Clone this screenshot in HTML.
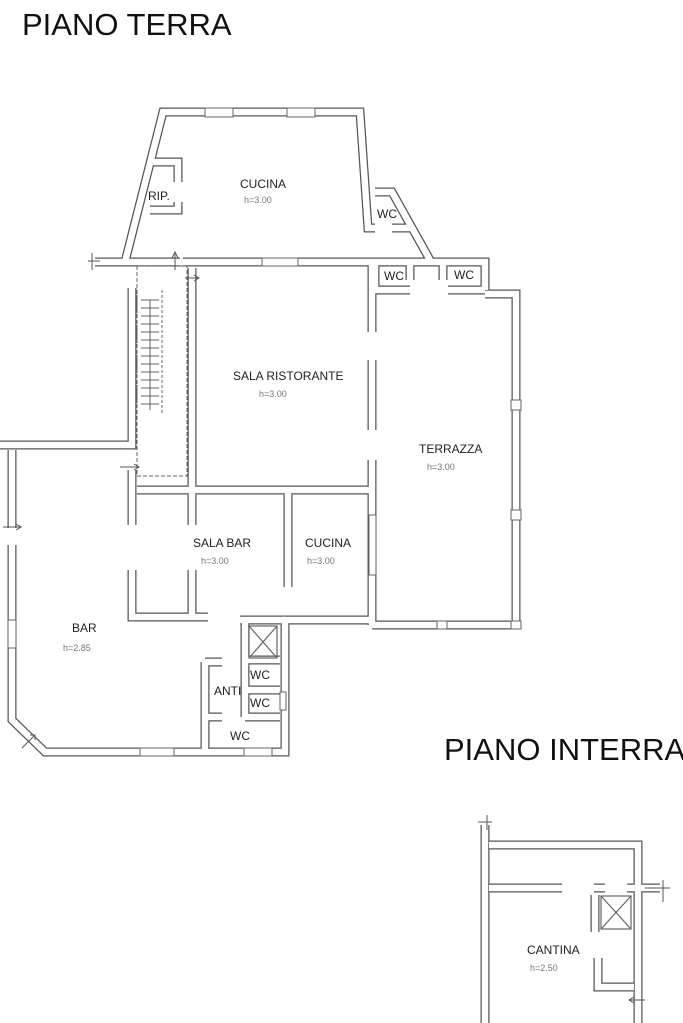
<!DOCTYPE html>
<html><head><meta charset="utf-8"><style>
html,body{margin:0;padding:0;background:#fff;width:683px;height:1023px;overflow:hidden}
svg{display:block}
.w{fill:none;stroke:#555;stroke-width:9;stroke-linejoin:miter;stroke-linecap:butt}
.wi{fill:none;stroke:#fff;stroke-width:6.5;stroke-linejoin:miter;stroke-linecap:butt}
.t{fill:none;stroke:#666;stroke-width:1.2}
.d{fill:none;stroke:#666;stroke-width:1;stroke-dasharray:4 2}
text{font-family:"Liberation Sans",Arial,sans-serif}
.lb{font-size:12px;fill:#222}
.h{font-size:9px;fill:#777}
</style></head><body>
<svg width="683" height="1023" viewBox="0 0 683 1023">
<text x="22" y="35" font-size="31" fill="#111">PIANO TERRA</text>
<text x="444" y="760" font-size="31" fill="#111">PIANO INTERRA</text>

<defs>
<g id="walls" fill="none">
<path d="M125 262 L163 112 L360 112 L368 228 L375 228"/>
<path d="M375 192 L392 192 L430 260"/>
<path d="M152 162 L178 162 L178 182"/>
<path d="M150 210 L178 210 L178 202"/>
<path d="M392 228 L410 228"/>
<path d="M95 262 L180 262"/>
<path d="M183 262 L372 262"/>
<path d="M372 262 L485 262 L485 290"/>
<path d="M375 262 L375 290 L410 290"/>
<path d="M448 290 L485 290"/>
<path d="M410 262 L410 280"/>
<path d="M443 262 L443 280"/>
<path d="M485 294 L516 294 L516 625 L372 625"/>
<path d="M372 262 L372 332"/>
<path d="M372 360 L372 430"/>
<path d="M372 460 L372 625"/>
<path d="M132 288 L132 445 L0 445"/>
<path d="M192 268 L192 490"/>
<path d="M132 470 L132 525"/>
<path d="M137 490 L372 490"/>
<path d="M192 490 L192 525"/>
<path d="M192 570 L192 615"/>
<path d="M132 570 L132 617 L208 617"/>
<path d="M288 493 L288 587"/>
<path d="M12 450 L12 528"/>
<path d="M12 545 L12 720 L45 752 L285 752 L285 620 L372 620"/>
<path d="M240 620 L285 620"/>
<path d="M205 662 L205 752"/>
<path d="M205 662 L222 662"/>
<path d="M205 717 L222 717"/>
<path d="M245 620 L245 717"/>
<path d="M245 690 L280 690"/>
<path d="M245 717 L280 717"/>
<path d="M245 660 L280 660"/>
<path d="M485 825 L485 1023"/>
<path d="M489 845 L638 845 L638 1023"/>
<path d="M489 888 L562 888"/>
<path d="M594 888 L605 888"/>
<path d="M627 888 L660 888"/>
<path d="M598 958 L598 987 L634 987"/>
<path d="M595 895 L595 932"/>
</g>
</defs>
<use href="#walls" class="w"/>
<use href="#walls" class="wi"/>

<rect x="137" y="266" width="50" height="210" class="d"/>
<g stroke="#666" stroke-width="1">
<line x1="137" y1="290" x2="137" y2="415" stroke-dasharray="3 2"/>
<line x1="162" y1="290" x2="162" y2="415" stroke-dasharray="3 2"/>
<path d="M141 300 h18 M141 308 h18 M141 316 h18 M141 324 h18 M141 332 h18 M141 340 h18 M141 348 h18 M141 356 h18 M141 364 h18 M141 372 h18 M141 380 h18 M141 388 h18 M141 396 h18 M141 404 h18"/>
<line x1="150" y1="300" x2="150" y2="410"/>
</g>
<g class="t"><rect x="249" y="626" width="28" height="32"/><path d="M249 626 L277 658 M277 626 L249 658"/>
<rect x="601" y="896" width="30" height="33"/><path d="M601 896 L631 929 M631 896 L601 929"/></g>
<g stroke="#555" stroke-width="1" fill="none">
<path d="M175 270 V254 M172 258 L175 252 L178 258"/>
<path d="M185 278 H198 M194 275 L199 278 L194 281"/>
<path d="M120 467 H138 M134 464 L139 467 L134 470"/>
<path d="M3 527 H20 M16 524 L21 527 L16 530"/>
<path d="M22 748 L35 735 M30 735 L35 735 L35 740"/>
<path d="M630 1000 H645 M634 997 L629 1000 L634 1003"/>
<path d="M88 261 H100 M92 253 V270"/>
<path d="M478 822 H492 M487 815 V830"/>
<path d="M645 888 H670 M663 880 V902"/>
</g>
<g fill="#fff" stroke="#666" stroke-width="1">
<rect x="205" y="108" width="28" height="9"/><rect x="287" y="108" width="28" height="9"/>
<rect x="262" y="258" width="36" height="8"/>
<rect x="511" y="400" width="10" height="10"/><rect x="511" y="510" width="10" height="10"/>
<rect x="437" y="621" width="10" height="8"/><rect x="511" y="621" width="10" height="8"/>
<rect x="8" y="620" width="8" height="28"/>
<rect x="140" y="748" width="34" height="8"/><rect x="244" y="748" width="28" height="8"/>
<rect x="369" y="515" width="7" height="60"/>
<rect x="280" y="692" width="6" height="18"/>
</g>
<text class="lb" x="240" y="188">CUCINA</text><text class="h" x="244" y="203">h=3.00</text>
<text class="lb" x="148" y="200">RIP.</text>
<text class="lb" x="377" y="218">WC</text>
<text class="lb" x="384" y="280">WC</text><text class="lb" x="454" y="279">WC</text>
<text class="lb" x="233" y="380">SALA RISTORANTE</text><text class="h" x="259" y="397">h=3.00</text>
<text class="lb" x="419" y="453">TERRAZZA</text><text class="h" x="427" y="470">h=3.00</text>
<text class="lb" x="193" y="547">SALA BAR</text><text class="h" x="201" y="564">h=3.00</text>
<text class="lb" x="305" y="547">CUCINA</text><text class="h" x="307" y="564">h=3.00</text>
<text class="lb" x="72" y="632">BAR</text><text class="h" x="63" y="651">h=2.85</text>
<text class="lb" x="214" y="695">ANTI</text>
<text class="lb" x="250" y="679">WC</text><text class="lb" x="250" y="707">WC</text>
<text class="lb" x="230" y="740">WC</text>
<text class="lb" x="527" y="954">CANTINA</text><text class="h" x="530" y="971">h=2.50</text>
</svg>
</body></html>
